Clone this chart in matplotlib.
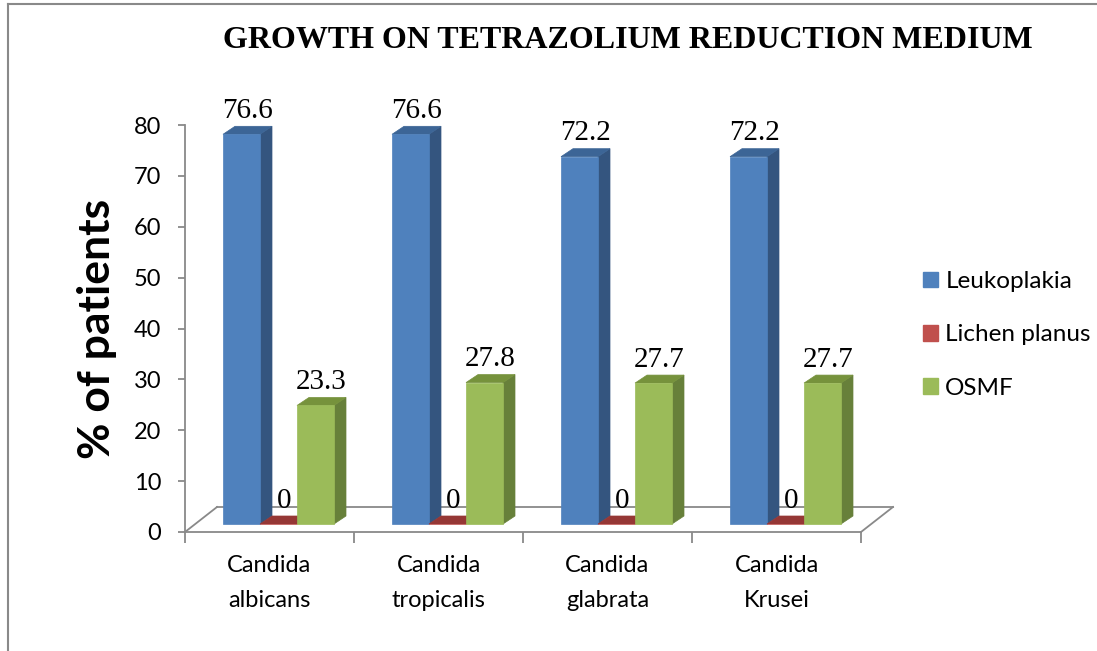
import numpy as np
import matplotlib
matplotlib.use("Agg")
import matplotlib.pyplot as plt
from matplotlib.patches import Polygon, Patch
from matplotlib.lines import Line2D

# ── Data ──────────────────────────────────────────────────────────────────────
categories = ["Candida\nalbicans", "Candida\ntropicalis", "Candida\nglabrata", "Candida\nKrusei"]
series     = ["Leukoplakia", "Lichen planus", "OSMF"]
leukoplakia   = [76.6, 76.6, 72.2, 72.2]
lichen_planus = [0, 0, 0, 0]
osmf          = [23.3, 27.8, 27.7, 27.7]
values = [leukoplakia, lichen_planus, osmf]
y_ticks = list(range(0, 81, 10))

# face colours: front, side, top
FRONT = ["#4F81BD", "#C0504D", "#9BBB59"]
SIDE  = ["#34557F", "#7F2F2D", "#67803A"]
TOP   = ["#3C6596", "#953735", "#76923C"]
LEG   = ["#4F81BD", "#C0504D", "#9BBB59"]
GRID  = "#898989"

SANS  = ["Lato", "DejaVu Sans"]
SERIF = ["Liberation Serif", "DejaVu Serif"]

# ── Figure / axes ─────────────────────────────────────────────────────────────
W, H = 1097, 651
fig = plt.figure(figsize=(W / 100, H / 100), dpi=100)
x0_px, x1_px = 185, 861
y0_px, y80_px = 532, 125
ax = fig.add_axes([x0_px / W, (H - y0_px) / H,
                   (x1_px - x0_px) / W, (y0_px - y80_px) / H])
ax.set_xlim(0, len(categories))
ax.set_ylim(0, 80)

px_x = (x1_px - x0_px) / len(categories)   # pixels per category
px_y = (y0_px - y80_px) / 80.0               # pixels per unit

# 3D-ish geometry (pixels converted to data units)
bar_w    = 37 / px_x
shift_x  = 9 / px_x
shift_y  = 8 / px_y
depth_x  = 12 / px_x
depth_y  = 8 / px_y
floor_dx = 32 / px_x
floor_dy = 25 / px_y

# floor outline
n = len(categories)
floor_kw = dict(color=GRID, lw=1.3, clip_on=False, zorder=1)
ax.plot([n, n + floor_dx], [0, floor_dy], **floor_kw)
ax.plot([0, floor_dx], [0, floor_dy], **floor_kw)
ax.plot([floor_dx, n + floor_dx], [floor_dy, floor_dy], **floor_kw)

# bars
group_pad = (1 - len(series) * bar_w) / 2
z = 2
for i in range(n):
    for j, vals in enumerate(values):
        v = vals[i]
        xl = i + group_pad + j * bar_w + shift_x
        xr = xl + bar_w
        yb = shift_y
        yt = shift_y + v
        front = [(xl, yb), (xr, yb), (xr, yt), (xl, yt)]
        side = [(xr, yb), (xr + depth_x, yb + depth_y),
                (xr + depth_x, yt + depth_y), (xr, yt)]
        top = [(xl, yt), (xr, yt), (xr + depth_x, yt + depth_y),
               (xl + depth_x, yt + depth_y)]
        for pts, col in [(side, SIDE[j]), (top, TOP[j]), (front, FRONT[j])]:
            ax.add_patch(Polygon(pts, closed=True, facecolor=col,
                                 edgecolor=col, lw=0.5, clip_on=False, zorder=z))
        lab = f"{v:g}" if v != 0 else "0"
        ax.annotate(lab, (xl + bar_w / 2 + depth_x / 2, yt + depth_y),
                    xytext=(0, 6), textcoords="offset points",
                    ha="center", va="baseline", fontsize=21,
                    family=SERIF, zorder=z + 1, annotation_clip=False)
        z += 1

# axes styling
for s in ["top", "right"]:
    ax.spines[s].set_visible(False)
for s in ["left", "bottom"]:
    ax.spines[s].set_color(GRID)
    ax.spines[s].set_linewidth(1.3)
ax.set_yticks(y_ticks)
ax.set_yticklabels([str(t) for t in y_ticks], fontsize=17, family=SANS)
ax.tick_params(axis="y", length=5, width=1.3, color=GRID, pad=12)

ax.set_xticks(np.arange(n + 1), minor=False)
ax.set_xticklabels([""] * (n + 1))
ax.tick_params(axis="x", which="major", length=8, width=1.3, color=GRID)
for i, c in enumerate(categories):
    ax.text(i + 0.5, -4.6, c, ha="center", va="top", fontsize=17,
            family=SANS, linespacing=1.8)

ax.set_ylabel("% of patients", fontsize=32, fontweight="bold",
              family=SANS, labelpad=12)

# title
fig.text(628 / W, 1 - 40 / H, "GROWTH ON TETRAZOLIUM REDUCTION MEDIUM",
         ha="center", va="center", fontsize=23, fontweight="bold",
         family=SERIF)

# legend
handles = [Patch(facecolor=c, edgecolor=c) for c in LEG]
fig.legend(handles, series, loc="upper left",
           bbox_to_anchor=(923 / W, 1 - 271 / H), frameon=False,
           prop={"family": SANS, "size": 17.5}, handlelength=0.62,
           handleheight=0.62, handletextpad=0.3, labelspacing=1.33,
           borderpad=0, borderaxespad=0)

# outer frame (top + left)
fig.add_artist(Line2D([8 / W, 1], [1 - 4 / H, 1 - 4 / H],
                      transform=fig.transFigure, color=GRID, lw=1.5))
fig.add_artist(Line2D([8 / W, 8 / W], [0, 1 - 4 / H],
                      transform=fig.transFigure, color=GRID, lw=1.5))

fig.savefig("out.png", dpi=100)
